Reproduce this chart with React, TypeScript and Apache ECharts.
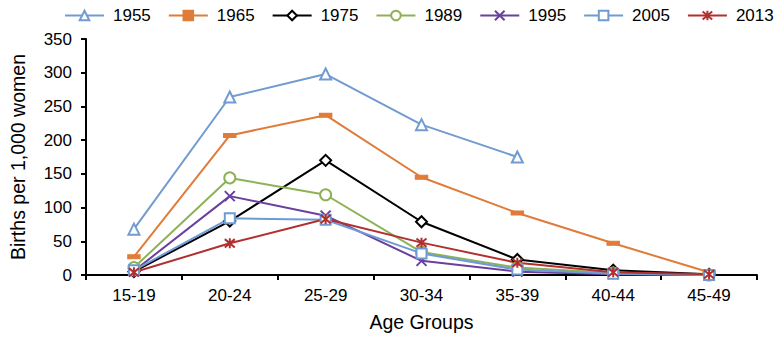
import React, { useEffect, useRef } from "react";
import * as echarts from "echarts";

const categories = ["15-19", "20-24", "25-29", "30-34", "35-39", "40-44", "45-49"];
const s1955 = [68, 264, 298, 223, 175, null, null];
const s1965 = [27, 207, 237, 145, 92, 47, 4];
const s1975 = [5, 80, 170, 79, 23, 7, 1];
const s1989 = [11, 144, 119, 34, 11, 3, 0];
const s1995 = [6, 117, 88, 21, 5, 1, 0];
const s2005 = [7, 84, 82, 32, 8, 2, 0];
const s2013 = [4, 47, 83, 48, 18, 4, 1];

const CROSS = "path://M0,0L10,10M10,0L0,10";
const STAR = "path://M0,0L10,10M10,0L0,10M5,-1L5,11";

export default function App() {
  const ref = useRef<HTMLDivElement>(null);
  useEffect(() => {
    const chart = echarts.init(ref.current!, null, { renderer: "svg" });
    const font = "Liberation Sans, Arial, sans-serif";
    const mk = (name: string, data: any[], color: string, symbol: string, size: any, stroke = false) => ({
      name,
      type: "line",
      data,
      symbol,
      symbolSize: size,
      showSymbol: true,
      lineStyle: { color, width: 2 },
      itemStyle: stroke
        ? { color: "none", borderColor: color, borderWidth: 2 }
        : { color, borderColor: color, borderWidth: 1.5 },
      emphasis: { disabled: true },
    });
    chart.setOption({
      animation: false,
      textStyle: { fontFamily: font },
      legend: {
        top: 7,
        left: 64,
        width: 760,
        padding: 0,
        itemWidth: 39,
        itemHeight: 12,
        itemGap: 17,
        textStyle: { fontSize: 17, color: "#000", fontFamily: font, padding: [0, 0, 0, 4] },
        data: ["1955", "1965", "1975", "1989", "1995", "2005", "2013"],
      },
      grid: { left: 83, right: 18, top: 39, bottom: 62, containLabel: false },
      xAxis: {
        type: "category",
        data: categories,
        boundaryGap: true,
        name: "Age Groups",
        nameLocation: "middle",
        nameGap: 37,
        nameTextStyle: { fontSize: 19.5, color: "#000" },
        axisLine: { lineStyle: { color: "#000", width: 2 } },
        axisTick: { show: true, length: 5, lineStyle: { color: "#000", width: 2 } },
        axisLabel: { fontSize: 17, color: "#000", margin: 12 },
      },
      yAxis: {
        type: "value",
        min: 0,
        max: 350,
        interval: 50,
        name: "Births per 1,000 women",
        nameLocation: "middle",
        nameGap: 58,
        nameTextStyle: { fontSize: 19.5, color: "#000" },
        splitLine: { show: false },
        axisLine: { show: true, lineStyle: { color: "#000", width: 2 } },
        axisTick: { show: true, length: 5, lineStyle: { color: "#000", width: 2 } },
        axisLabel: { fontSize: 17, color: "#000", margin: 14 },
      },
      series: [
        mk("1955", s1955, "#729bcf", "emptyTriangle", 11),
        mk("1965", s1965, "#e07b39", "rect", [11, 4]),
        mk("1975", s1975, "#000000", "emptyDiamond", 11),
        mk("1989", s1989, "#8db255", "emptyCircle", 11),
        mk("1995", s1995, "#6a3f9e", CROSS, 10, true),
        mk("2005", s2005, "#6f9bd2", "emptyRect", 10),
        mk("2013", s2013, "#b22f2f", STAR, 10, true),
      ],
    });
    return () => chart.dispose();
  }, []);
  return <div ref={ref} style={{ width: 775, height: 337, position: "absolute", left: 0, top: 0 }} />;
}
